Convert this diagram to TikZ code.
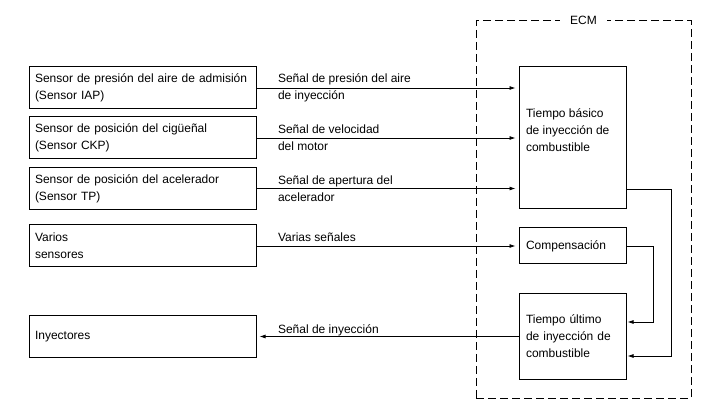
\documentclass[tikz,border=0pt]{standalone}
\usepackage{fontspec}
\setmainfont{Liberation Sans}
\usetikzlibrary{arrows.meta}

\begin{document}
\begin{tikzpicture}[x=1pt, y=-1pt,
    every node/.style={font=\fontsize{12}{17}\selectfont},
    sensor/.style={draw, line width=1pt, minimum width=227pt, minimum height=42pt, text width=215pt, inner xsep=6pt, align=left},
    ecmbox/.style={draw, line width=1pt, minimum width=107pt, text width=93pt, inner xsep=7pt, align=left},
    sig/.style={line width=0.8pt, -{Latex[length=6pt,width=4pt]}, shorten >=3pt},
    sigtext/.style={anchor=west, align=left}
]
    \useasboundingbox (0,0) rectangle (710,414);
    % sensors and injectors
    \node[sensor] (iap) at (142.5,88) {Sensor de presión del aire de admisión\\(Sensor IAP)};
    \node[sensor] (ckp) at (142.5,138) {Sensor de posición del cigüeñal\\(Sensor CKP)};
    \node[sensor] (tp) at (142.5,188.5) {Sensor de posición del acelerador\\(Sensor TP)};
    \node[sensor] (varios) at (142.5,246) {Varios\\sensores};
    \node[sensor] (iny) at (142.5,336.5) {Inyectores};
    % ECM frame
    \node[draw, line width=1pt, dash pattern=on 8pt off 4pt, minimum width=215pt, minimum height=377pt] (ecm) at (583.5,209.5) {};
    \node[fill=white, inner xsep=10pt, inner ysep=2pt] (ecmlbl) at (ecm.north) {ECM};
    % blocks inside the ECM
    \node[ecmbox, minimum height=142pt] (basico) at (572.5,138) {};
    \node[sigtext] (basicotxt) at ([xshift=4pt,yshift=8pt]basico.west) {Tiempo básico\\de inyección de\\combustible};
    \node[ecmbox, minimum height=36pt] (comp) at (572.5,246) {Compensación};
    \node[ecmbox, minimum height=85pt] (ultimo) at (572.5,336.5) {Tiempo último\\de inyección de\\combustible};
    % signals into the ECM
    \draw[sig] (iap.east) -- (iap.east -| basico.west);
    \node[sigtext] (lbliap) at ([xshift=18pt]iap.east) {Señal de presión del aire\\de inyección};
    \draw[sig] (ckp.east) -- (ckp.east -| basico.west);
    \node[sigtext] (lblckp) at ([xshift=18pt]ckp.east) {Señal de velocidad\\del motor};
    \draw[sig] (tp.east) -- (tp.east -| basico.west);
    \node[sigtext] (lbltp) at ([xshift=18pt]tp.east) {Señal de apertura del\\acelerador};
    \draw[sig] (varios.east) -- (comp.west);
    \node[anchor=base west] (lblvarios) at ([xshift=18pt,yshift=4pt]varios.east) {Varias señales};
    % output to injectors
    \draw[sig] (ultimo.west) -- (iny.east);
    \node[anchor=base west] (lbliny) at ([xshift=18pt,yshift=3pt]iny.east) {Señal de inyección};
    % internal paths
    \draw[sig, shorten >=1pt] (comp.east) -- ++(27,0) |- ([yshift=14.5pt]ultimo.east);
    \draw[sig, shorten >=1pt] ([yshift=-51pt]basico.east) -- ++(45,0) |- ([yshift=-19.5pt]ultimo.east);
\end{tikzpicture}
\end{document}
